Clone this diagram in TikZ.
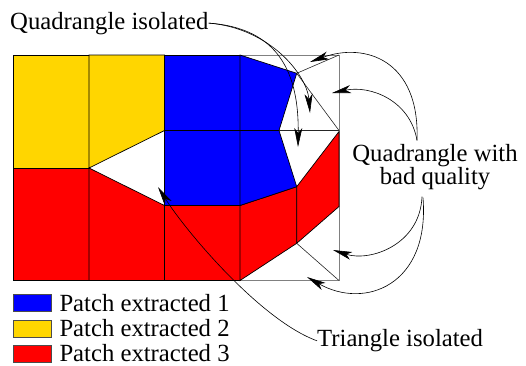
\documentclass[tikz,border=0pt]{standalone}
\usepackage{fontspec}
\setmainfont{Liberation Serif}
\newfontfamily\timesish{Liberation Serif}
\usetikzlibrary{arrows.meta}
\definecolor{pblue}{RGB}{0,0,255}
\definecolor{pyellow}{RGB}{255,214,0}
\definecolor{pred}{RGB}{255,0,0}
\begin{document}
\begin{tikzpicture}[x=1pt,y=-1pt,
  patch/.style={draw=black,line width=0.7pt,line join=miter},
  meshline/.style={draw=black!85,line width=0.6pt},
  border/.style={draw=black!50,line width=0.9pt},
  callout/.style={draw=black,line width=0.6pt,-{Stealth[length=19pt,width=8pt,inset=5pt]}},
  lbl/.style={font=\timesish\fontsize{24.7}{22.5}\selectfont,inner sep=0pt},
  legbox/.style={draw=black!70,line width=0.7pt,minimum width=37.4pt,minimum height=17.4pt,inner sep=0pt}
]
\useasboundingbox (0,0) rectangle (526,365);
% mesh points
\coordinate (P) at (296.7,73.3);
\coordinate (Q) at (279,130.5);
\coordinate (R) at (296.7,186.7);
\coordinate (S) at (339,131.5);
\coordinate (T) at (339,206.5);
\coordinate (U) at (296.7,243.3);
% outer border
\draw[border] (13.5,55) rectangle (339,280.5);
% yellow patch
\filldraw[patch,fill=pyellow] (13.5,55) rectangle (89,168);
\filldraw[patch,fill=pyellow] (89,55) -- (164.5,55) -- (164.5,130.5) -- (89,168) -- cycle;
% red patch
\filldraw[patch,fill=pred] (13.5,168) rectangle (89,280.5);
\filldraw[patch,fill=pred] (89,168) -- (164.5,205.5) -- (164.5,280.5) -- (89,280.5) -- cycle;
\filldraw[patch,fill=pred] (164.5,205.5) rectangle (240,280.5);
\filldraw[patch,fill=pred] (240,205.5) -- (R) -- (U) -- (240,280.5) -- cycle;
\filldraw[patch,fill=pred] (R) -- (S) -- (T) -- (U) -- cycle;
% blue patch
\filldraw[patch,fill=pblue] (164.5,55) rectangle (240,130.5);
\filldraw[patch,fill=pblue] (240,55) -- (P) -- (Q) -- (240,130.5) -- cycle;
\filldraw[patch,fill=pblue] (164.5,130.5) rectangle (240,205.5);
\filldraw[patch,fill=pblue] (240,130.5) -- (Q) -- (R) -- (240,205.5) -- cycle;
% white mesh lines
\draw[meshline] (P) -- (339,55);
\draw[meshline] (P) -- (339,130.5);
\draw[meshline] (Q) -- (339,130.5);
\draw[meshline] (U) -- (339,280.5);
% labels
\node[lbl,anchor=base west] (qi) at (10,29) {Quadrangle isolated};
\node[lbl,align=center] (qb) at (435,167) {Quadrangle with\\bad quality};
\node[lbl,anchor=base west] (ti) at (317,346.7) {Triangle isolated};
% arrow targets
\coordinate (tip1) at (310,113);
\coordinate (tip2) at (298,147);
\coordinate (tip3) at (310,62);
\coordinate (tip4) at (332,93);
\coordinate (tip5) at (333,250);
\coordinate (tip6) at (307,277);
\coordinate (tip7) at (158,187);
% callouts
\draw[callout] (qi.east) .. controls (270,28) and (307,75) .. (tip1);
\draw[callout] (qi.east) .. controls (280,28) and (299,75) .. (tip2);
\draw[callout] ([xshift=-18pt,yshift=4pt]qb.north) .. controls (420,60) and (365,42) .. (tip3);
\draw[callout] ([xshift=-18pt,yshift=4pt]qb.north) .. controls (410,100) and (370,85) .. (tip4);
\draw[callout] ([xshift=-13pt,yshift=-7pt]qb.south) .. controls (420,245) and (370,262) .. (tip5);
\draw[callout] ([xshift=-12pt,yshift=-8pt]qb.south) .. controls (430,285) and (365,310) .. (tip6);
\draw[callout] (ti.west) .. controls (260,320) and (185,230) .. (tip7);
% legend
\node[legbox,fill=pblue,anchor=north west] (b1) at (13.3,294) {};
\node[legbox,fill=pyellow,anchor=north west] (b2) at (13.3,319.5) {};
\node[legbox,fill=pred,anchor=north west] (b3) at (13.3,345) {};
\node[lbl,anchor=base west] (t1) at (59.3,311.2) {Patch extracted 1};
\node[lbl,anchor=base west] (t2) at (59.3,336.7) {Patch extracted 2};
\node[lbl,anchor=base west] (t3) at (59.3,361.4) {Patch extracted 3};
\end{tikzpicture}
\end{document}
